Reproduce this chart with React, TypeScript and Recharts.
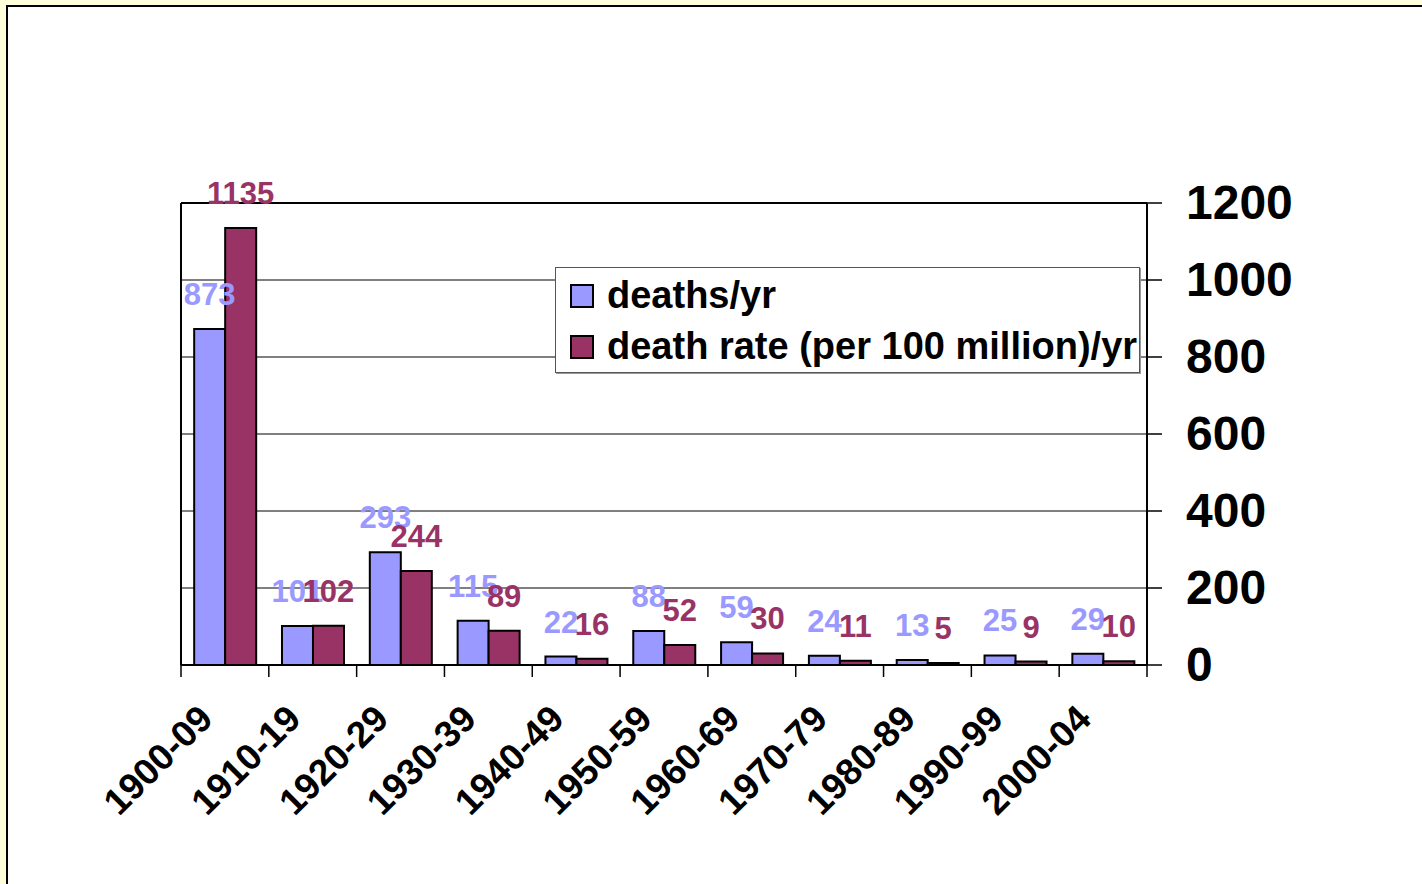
import { BarChart, Bar, XAxis, YAxis, CartesianGrid, Legend, LabelList, ReferenceLine } from "recharts";

const decades = ["1900-09", "1910-19", "1920-29", "1930-39", "1940-49", "1950-59", "1960-69", "1970-79", "1980-89", "1990-99", "2000-04"];
const deathsPerYear = [873, 101, 293, 115, 22, 88, 59, 24, 13, 25, 29];
const deathRate = [1135, 102, 244, 89, 16, 52, 30, 11, 5, 9, 10];
const yTicks = [0, 200, 400, 600, 800, 1000, 1200];

const BLUE = "#9999FF";
const PLUM = "#993366";
const FONT = "'Liberation Sans', Arial, sans-serif";

const rows = decades.map((d, i) => ({ decade: d, deaths: deathsPerYear[i], rate: deathRate[i] }));

const seriesInfo = [
  { key: "deaths", name: "deaths/yr", color: BLUE },
  { key: "rate", name: "death rate (per 100 million)/yr", color: PLUM },
];

function valueLabel(color: string) {
  return (props: any) => {
    const { x, y, width, value } = props;
    return (
      <text x={x + width / 2} y={y - 24} fill={color} textAnchor="middle" fontSize={31} fontWeight="bold" fontFamily={FONT}>
        {value}
      </text>
    );
  };
}

// category label plus tick marks on the group boundaries
const DecadeTick = (props: any) => {
  const { x, y, payload, index } = props;
  const half = payload.offset ?? 0;
  return (
    <g transform={`translate(${x},${y})`}>
      <line x1={-half} y1={0} x2={-half} y2={12} stroke="#000" strokeWidth={1.5} />
      {index === decades.length - 1 && <line x1={half} y1={0} x2={half} y2={12} stroke="#000" strokeWidth={1.5} />}
      <text x={-10} y={56} transform="rotate(-45, -10, 56)" textAnchor="end" fontSize={37} fontWeight="bold" fill="#000" fontFamily={FONT}>
        {payload.value}
      </text>
    </g>
  );
};

const ValueTick = (props: any) => {
  const { x, y, payload } = props;
  return (
    <text x={x} y={y} dy={16} textAnchor="start" fontSize={48} fontWeight="bold" fill="#000" fontFamily={FONT}>
      {payload.value}
    </text>
  );
};

const LegendBox = () => (
  <div style={{ border: "1px solid #555", background: "#fff", boxShadow: "1px 1px 0 #999", height: "100%", boxSizing: "border-box", padding: "2px 0 0 14px", fontFamily: FONT }}>
    {seriesInfo.map((s) => (
      <div key={s.key} style={{ display: "flex", alignItems: "center", height: 51 }}>
        <div style={{ width: 20, height: 20, background: s.color, border: "2px solid #000", marginRight: 13 }} />
        <span style={{ fontSize: 38, fontWeight: "bold", color: "#000", whiteSpace: "nowrap" }}>{s.name}</span>
      </div>
    ))}
  </div>
);

export default function App() {
  return (
    <div style={{ position: "fixed", left: 0, top: 0, width: 1422, height: 884, background: "#FFFFDC", overflow: "hidden" }}>
      <div style={{ position: "absolute", left: 6, top: 5, right: -10, bottom: -10, background: "#fff", borderLeft: "2px solid #000", borderTop: "2px solid #000" }} />
      <div style={{ position: "absolute", left: 0, top: 0 }}>
        <BarChart
          width={1422}
          height={884}
          data={rows}
          margin={{ top: 203, left: 180, right: 75, bottom: 69 }}
          barCategoryGap="15%"
          barGap={0}
        >
          <CartesianGrid vertical={false} stroke="#000" xAxisId="cat" yAxisId="r" />
          <XAxis xAxisId="cat" dataKey="decade" height={150} interval={0} tickSize={0} tickMargin={0} tickLine={false} axisLine={{ stroke: "#000", strokeWidth: 2 }} tick={DecadeTick} />
          <YAxis yAxisId="l" orientation="left" width={1} domain={[0, 1200]} ticks={yTicks} tick={false} tickLine={false} axisLine={{ stroke: "#000", strokeWidth: 2 }} />
          <YAxis yAxisId="r" orientation="right" width={200} domain={[0, 1200]} ticks={yTicks} interval={0} tickSize={15} tickMargin={24} tickLine={{ stroke: "#000", strokeWidth: 1.5 }} axisLine={{ stroke: "#000", strokeWidth: 2 }} tick={ValueTick} />
          <ReferenceLine xAxisId="cat" yAxisId="r" y={1200} stroke="#000" strokeWidth={2} />
          <Legend layout="vertical" align="center" verticalAlign="middle" content={LegendBox} wrapperStyle={{ left: 555, top: 267, width: 585, height: 106 }} />
          {seriesInfo.map((s) => (
            <Bar key={s.key} xAxisId="cat" yAxisId="r" dataKey={s.key} name={s.name} fill={s.color} stroke="#000" strokeWidth={2} isAnimationActive={false}>
              <LabelList dataKey={s.key} content={valueLabel(s.color)} />
            </Bar>
          ))}
        </BarChart>
      </div>
    </div>
  );
}
